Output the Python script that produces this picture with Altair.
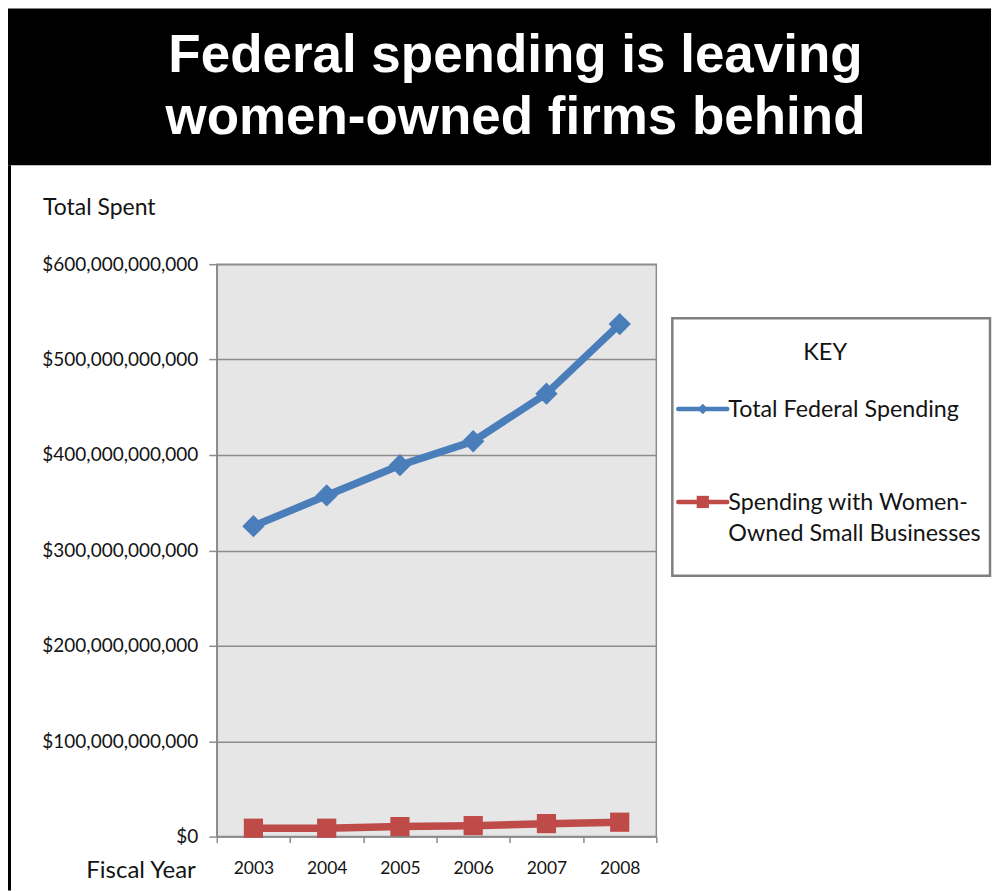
import altair as alt
import pandas as pd

# ---------------- data ----------------
years = ["2003", "2004", "2005", "2006", "2007", "2008"]
total_spending = [325.4e9, 357.6e9, 389.3e9, 414.4e9, 464.3e9, 537.2e9]
wosb_spending = [8.8e9, 8.8e9, 10.5e9, 11.5e9, 13.6e9, 15.1e9]

series_names = ["Total Federal Spending", "Spending with Women-Owned Small Businesses"]
series_colors = ["#4a7ebb", "#be4b48"]
series_shapes = ["diamond", "square"]
series_sizes = [500, 370]
legend_lines = [["Total Federal Spending"], ["Spending with Women-", "Owned Small Businesses"]]

title_lines = ["Federal spending is leaving", "women-owned firms behind"]
y_title = "Total Spent"
x_title = "Fiscal Year"
legend_title = "KEY"
y_ticks = [0, 1e11, 2e11, 3e11, 4e11, 5e11, 6e11]

df = pd.DataFrame({
    "year": years * 2,
    "value": total_spending + wosb_spending,
    "series": [series_names[0]] * len(years) + [series_names[1]] * len(years),
})

one = pd.DataFrame({"k": [0]})
GRID = "#8c8c8c"
TXT = "#141414"

x_enc = alt.X(
    "year:O",
    scale=alt.Scale(type="band", paddingInner=0, paddingOuter=0),
    axis=alt.Axis(title=None, labelAngle=0, tickBand="extent", tickSize=6,
                  labelPadding=17, labelFont="Lato", labelFontSize=17.5,
                  labelColor=TXT, domainColor=GRID, domainWidth=1.5,
                  tickColor=GRID, tickWidth=1.5, grid=False),
)
y_enc = alt.Y(
    "value:Q",
    scale=alt.Scale(domain=[0, 6e11], nice=False),
    axis=alt.Axis(title=None, values=y_ticks, format="$,.0f", tickSize=8,
                  labelPadding=11, labelFont="Lato", labelFontSize=19,
                  labelColor=TXT, domainColor=GRID, domainWidth=1.5,
                  tickColor=GRID, tickWidth=1.5, grid=True, gridColor=GRID,
                  gridWidth=1.5),
)
color_enc = alt.Color("series:N", scale=alt.Scale(domain=series_names, range=series_colors), legend=None)

lines = alt.Chart(df).mark_line(strokeWidth=7.5).encode(x=x_enc, y=y_enc, color=color_enc)
points = alt.Chart(df).mark_point(filled=True, opacity=1).encode(
    x=x_enc, y=y_enc, color=color_enc,
    shape=alt.Shape("series:N", scale=alt.Scale(domain=series_names, range=series_shapes), legend=None),
    size=alt.Size("series:N", scale=alt.Scale(domain=series_names, range=series_sizes), legend=None),
)

layers = []
# black banner with title
layers.append(alt.Chart(one).mark_rect(color="black").encode(
    x=alt.value(-209), x2=alt.value(775), y=alt.value(-256), y2=alt.value(-99)))
for i, line in enumerate(title_lines):
    layers.append(alt.Chart(one).mark_text(
        font="Liberation Sans", fontWeight="bold", fontSize=53, color="white",
        align="center", baseline="alphabetic").encode(
        x=alt.value(299), y=alt.value(-192 + 62 * i), text=alt.value(line)))
# left border
layers.append(alt.Chart(one).mark_rule(color="black", strokeWidth=3).encode(
    x=alt.value(-207.5), y=alt.value(-99), y2=alt.value(627)))
# axis titles
layers.append(alt.Chart(one).mark_text(font="Lato", fontSize=23, color=TXT, align="left",
                                       baseline="alphabetic").encode(
    x=alt.value(-174), y=alt.value(-49), text=alt.value(y_title)))
layers.append(alt.Chart(one).mark_text(font="Lato", fontSize=24, color=TXT, align="right",
                                       baseline="alphabetic").encode(
    x=alt.value(-21), y=alt.value(614), text=alt.value(x_title)))

layers += [lines, points]

# legend box
layers.append(alt.Chart(one).mark_rect(fill="white", stroke="#808080", strokeWidth=2.5).encode(
    x=alt.value(456), x2=alt.value(774), y=alt.value(54), y2=alt.value(312)))
layers.append(alt.Chart(one).mark_text(font="Lato", fontSize=23.5, color=TXT, align="center",
                                       baseline="alphabetic").encode(
    x=alt.value(609), y=alt.value(96), text=alt.value(legend_title)))
entry_y = [145, 238]
marker_sizes = [110, 150]
for i, name in enumerate(series_names):
    ed = pd.DataFrame({"series": [name]})
    layers.append(alt.Chart(ed).mark_rule(color=series_colors[i], strokeWidth=4.5, strokeCap="round").encode(
        x=alt.value(462), x2=alt.value(511), y=alt.value(entry_y[i])))
    layers.append(alt.Chart(ed).mark_point(filled=True, opacity=1, shape=series_shapes[i],
                                           size=marker_sizes[i], color=series_colors[i]).encode(
        x=alt.value(486.5), y=alt.value(entry_y[i])))
    for j, txt in enumerate(legend_lines[i]):
        layers.append(alt.Chart(ed).mark_text(font="Lato", fontSize=23.3, color=TXT, align="left",
                                              baseline="alphabetic").encode(
            x=alt.value(512), y=alt.value(entry_y[i] + 8 + 31 * j), text=alt.value(txt)))

chart = alt.layer(*layers).properties(
    width=440, height=573, padding=0, background="white"
).configure_view(fill="#e6e6e6", stroke=GRID, strokeWidth=1.5)

chart.save("out.html", embed_options={"renderer": "svg", "actions": False})
